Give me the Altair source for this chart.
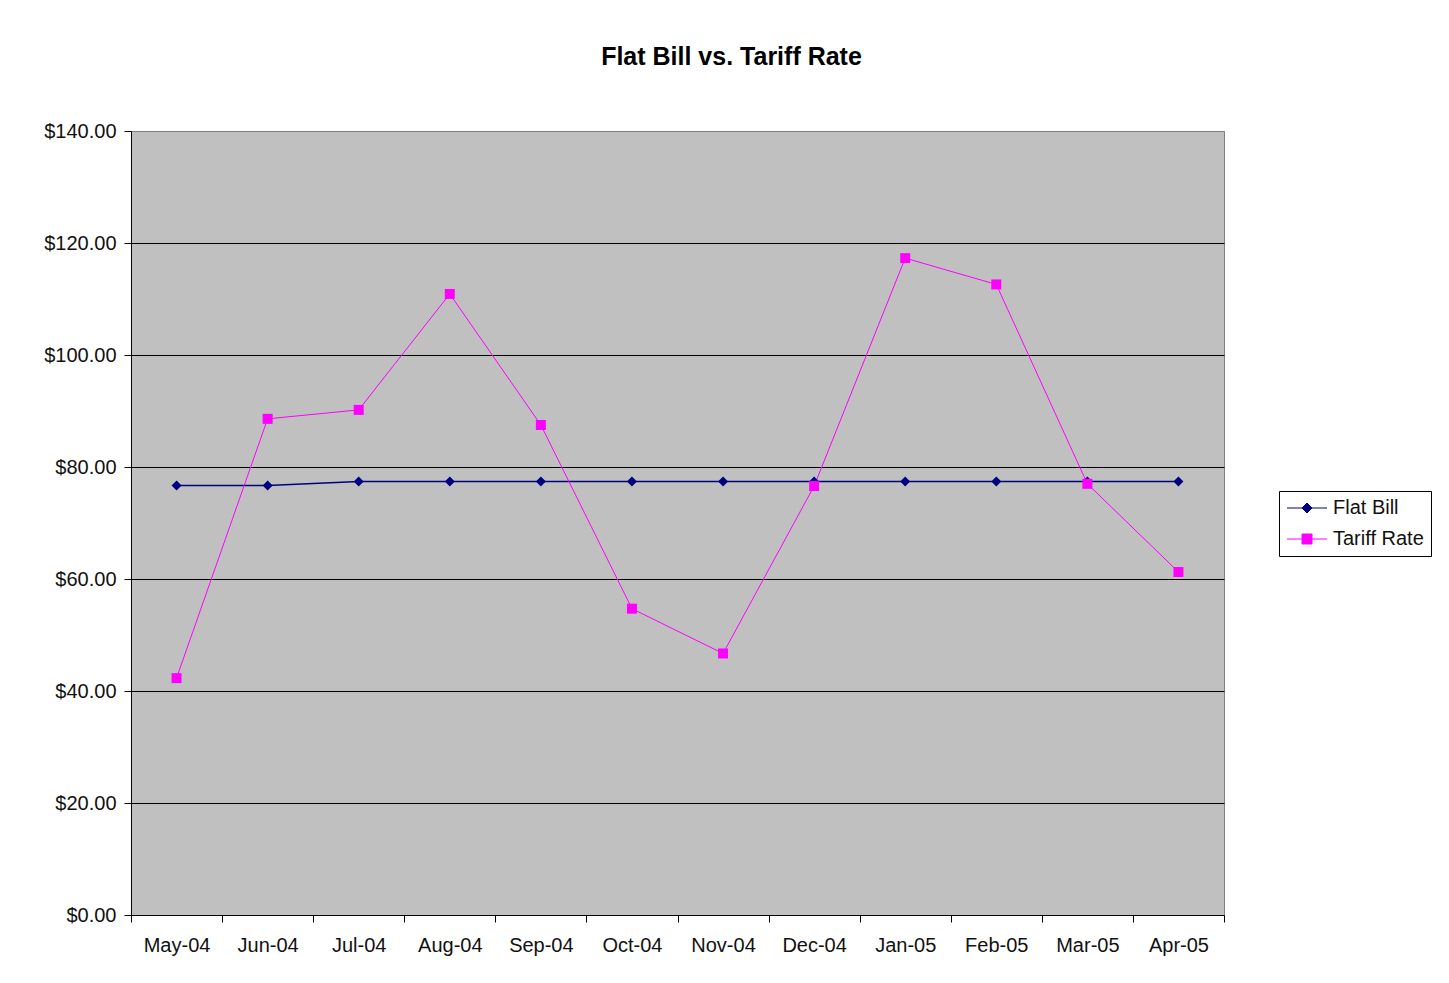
import altair as alt
import pandas as pd

months = ["May-04", "Jun-04", "Jul-04", "Aug-04", "Sep-04", "Oct-04",
          "Nov-04", "Dec-04", "Jan-05", "Feb-05", "Mar-05", "Apr-05"]
flat_bill = [76.70, 76.70, 77.40, 77.40, 77.40, 77.40,
             77.40, 77.40, 77.40, 77.40, 77.40, 77.40]
tariff_rate = [42.30, 88.60, 90.20, 110.90, 87.50, 54.70,
               46.70, 76.60, 117.30, 112.60, 77.00, 61.25]
series_names = ["Flat Bill", "Tariff Rate"]
series_colors = ["#000080", "#FF00FF"]
y_ticks = [0, 20, 40, 60, 80, 100, 120, 140]

rows = []
for s, vals in zip(series_names, [flat_bill, tariff_rate]):
    for m, v in zip(months, vals):
        rows.append({"month": m, "value": v, "series": s})
df = pd.DataFrame(rows)

FONT = "Liberation Sans"

x_enc = alt.X("month:N", sort=months, title=None,
              scale=alt.Scale(type="band", paddingInner=0, paddingOuter=0),
              axis=alt.Axis(labelAngle=0, tickBand="extent", labelFontSize=20,
                            labelFont=FONT, labelColor="#111111", tickSize=7,
                            tickColor="black", domainColor="black",
                            labelPadding=13, grid=False))
y_enc = alt.Y("value:Q", title=None,
              scale=alt.Scale(domain=[0, 140], nice=False, zero=True),
              axis=alt.Axis(values=y_ticks, format="$.2f", labelFontSize=20,
                            labelFont=FONT, labelColor="#111111", tickSize=7,
                            tickColor="black", domainColor="black",
                            labelPadding=8, grid=True,
                            gridColor=alt.condition("datum.value == 140",
                                                    alt.value("#808080"),
                                                    alt.value("black")),
                            gridWidth=1, gridOpacity=1))
color_scale = alt.Scale(domain=series_names, range=series_colors)

sym_expr = ("datum.value === 'Flat Bill' ? "
            "'M-4,0L4,0M0,-1L1,0L0,1L-1,0Z' : "
            "'M-4,0L4,0M-1,-1L1,-1L1,1L-1,1Z'")
stroke_expr = "datum.value === 'Flat Bill' ? '#000080' : '#FF00FF'"
fill_expr = stroke_expr

legend = alt.Legend(
    orient="none", legendX=1148, legendY=360,
    labelFont=FONT, labelFontSize=20, labelColor="#111111",
    symbolSize=100, symbolOffset=11, labelOffset=16,
    padding=7, rowPadding=11,
    fillColor="white", strokeColor="black",
    symbolType={"expr": sym_expr},
    symbolStrokeColor={"expr": stroke_expr},
    symbolFillColor={"expr": fill_expr},
    symbolStrokeWidth=1, symbolOpacity=1)

color_enc = alt.Color("series:N", scale=color_scale, title=None, legend=legend)

lines = alt.Chart(df).mark_line().encode(
    x=x_enc, y=y_enc,
    color=color_enc,
    strokeWidth=alt.condition(alt.datum.series == "Flat Bill",
                              alt.value(1.5), alt.value(1)),
    detail="series:N",
)

pts_flat = alt.Chart(df).transform_filter(
    alt.datum.series == "Flat Bill"
).mark_point(filled=True, size=100, opacity=1, shape="diamond").encode(
    x=x_enc, y=y_enc, color=color_enc,
)

pts_tariff = alt.Chart(df).transform_filter(
    alt.datum.series == "Tariff Rate"
).mark_point(filled=True, size=100, opacity=1, shape="square").encode(
    x=x_enc, y=y_enc, color=color_enc,
)

chart = alt.layer(lines, pts_flat, pts_tariff).properties(
    width=1093, height=784,
    background="white",
    title=alt.Title("Flat Bill vs. Tariff Rate", font=FONT, fontSize=25,
                    fontWeight="bold", color="black", anchor="middle",
                    dx=54, offset=31, baseline="alphabetic"),
    autosize=alt.AutoSizeParams(type="none"),
    padding={"left": 123, "top": 123, "right": 215, "bottom": 55},
).configure_view(
    fill="#C0C0C0", stroke="#808080", strokeWidth=1
)

chart.save("out.html", embed_options={"renderer": "svg", "actions": False})
